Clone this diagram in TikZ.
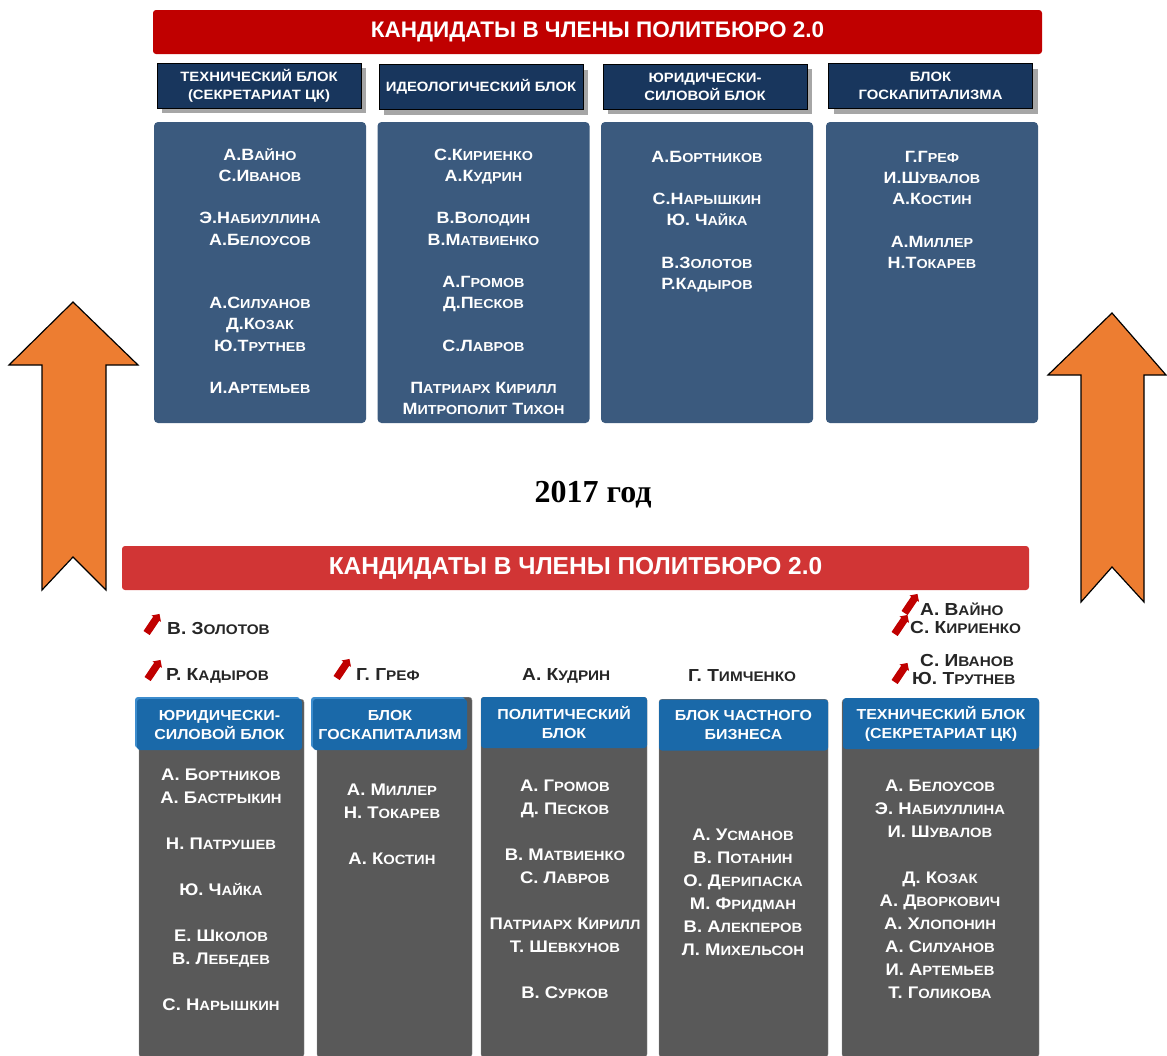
\documentclass[tikz,border=0pt]{standalone}
\usepackage{fontspec}
\setmainfont{Liberation Sans}[FakeStretch=1.1]
\newfontfamily\bannerfont{Liberation Sans}
\newfontfamily\yearfont{Liberation Serif}
\usetikzlibrary{positioning,shadows,shapes.arrows}
\definecolor{topred}{HTML}{C00000}
\definecolor{botred}{HTML}{D13535}
\definecolor{navyhead}{HTML}{18365D}
\definecolor{steelbox}{HTML}{3B5A7E}
\definecolor{bluehead}{HTML}{1A69A9}
\definecolor{bluelight}{HTML}{3C8CCD}
\definecolor{colgray}{HTML}{595959}
\definecolor{darktext}{HTML}{262626}
\definecolor{bigarrow}{HTML}{ED7D31}
\newcommand{\nm}[2]{#1\scalebox{0.8}{#2}}

\begin{document}
\begin{tikzpicture}[x=1pt,y=-1pt]
            \tikzset{banner/.style={rounded corners=3pt, text=white, inner sep=0pt, minimum height=44pt}}
            \tikzset{oldhead/.style={fill=navyhead, draw=black, line width=0.8pt, minimum width=204pt, minimum height=45pt, text=white, align=center, font=\bfseries\fontsize{13.5}{18}\selectfont, drop shadow={opacity=1, fill=black!35, shadow xshift=5pt, shadow yshift=-5pt}}}
            \tikzset{oldbox/.style={fill=steelbox, rounded corners=4pt, minimum width=212pt, minimum height=301pt}}
            \tikzset{oldnames/.style={anchor=north, inner sep=0pt, align=center, text=white, font=\bfseries\fontsize{16.3}{21.2}\selectfont}}
            \tikzset{newcol/.style={anchor=north, fill=colgray, draw=black!45, rounded corners=3pt, inner sep=0pt}}
            \tikzset{newhead/.style={fill=bluehead, rounded corners=3pt, inner sep=0pt, minimum height=51pt, text=white, align=center, font=\bfseries\fontsize{14.5}{19}\selectfont}}
            \tikzset{newnames/.style={anchor=north, inner sep=0pt, align=center, text=white, font=\bfseries\fontsize{16.8}{23}\selectfont}}
            \tikzset{outname/.style={anchor=west, inner sep=0pt, text height=12.5pt, text depth=0pt, text=darktext, font=\bfseries\fontsize{17.4}{20}\selectfont}}
            \tikzset{risearrow/.style={single arrow, fill=topred, rotate=56, inner sep=3.5pt, minimum height=23pt, single arrow head extend=2pt}}
            % \tikzset{newhead/.append style={draw=bluelight}}
            \useasboundingbox (0,0) rectangle (1167,1055);

            % big arrows
            \draw[fill=bigarrow, line width=1.2pt] (73,302) -- (138,365) -- (106,365) -- (106,590) -- (73,557)
                -- (42,590) -- (42,365) -- (9,365) -- cycle;
            \draw[fill=bigarrow, line width=1.2pt] (1112,313) -- (1166,375) -- (1144,375) -- (1144,602) -- (1112,567)
                -- (1081,602) -- (1081,375) -- (1048,375) -- cycle;

            % old composition
            \node[banner, fill=topred, minimum width=889pt, font=\bannerfont\bfseries\fontsize{22.5}{26}\selectfont]
                (oldtitle) at (597.5,32) {КАНДИДАТЫ В ЧЛЕНЫ ПОЛИТБЮРО 2.0};
            \node[oldhead] (oldtech) at (259,85.5) {ТЕХНИЧЕСКИЙ БЛОК\\(СЕКРЕТАРИАТ ЦК)};
            \node[oldhead] (oldideo) at (481,87) {ИДЕОЛОГИЧЕСКИЙ БЛОК};
            \node[oldhead] (oldsil) at (705,86.5) {ЮРИДИЧЕСКИ-\\СИЛОВОЙ БЛОК};
            \node[oldhead] (oldcap) at (930.5,86) {БЛОК\\ГОСКАПИТАЛИЗМА};
            \node[oldbox] (techbox) at (260,272.5) {};
            \node[oldbox] (ideobox) at (483.5,272.5) {};
            \node[oldbox] (silbox) at (707,272.5) {};
            \node[oldbox] (capbox) at (932,272.5) {};
            \node[oldnames, below=23.5pt of techbox.north] (technames) {\strut\nm{А.В}{АЙНО}\\\nm{С.И}{ВАНОВ}\\[21.2pt]
                \nm{Э.Н}{АБИУЛЛИНА}\\\nm{А.Б}{ЕЛОУСОВ}\\[42.4pt]
                \nm{А.С}{ИЛУАНОВ}\\\nm{Д.К}{ОЗАК}\\\nm{Ю.Т}{РУТНЕВ}\\[21.2pt]
                \nm{И.А}{РТЕМЬЕВ}};
            \node[oldnames, below=23.5pt of ideobox.north] (ideonames) {\strut\nm{С.К}{ИРИЕНКО}\\\nm{А.К}{УДРИН}\\[21.2pt]
                \nm{В.В}{ОЛОДИН}\\\nm{В.М}{АТВИЕНКО}\\[21.2pt]
                \nm{А.Г}{РОМОВ}\\\nm{Д.П}{ЕСКОВ}\\[21.2pt]
                \nm{С.Л}{АВРОВ}\\[21.2pt]
                \nm{П}{АТРИАРХ} \nm{К}{ИРИЛЛ}\\\nm{М}{ИТРОПОЛИТ} \nm{Т}{ИХОН}};
            \node[oldnames, below=25.5pt of silbox.north] (silnames) {\strut\nm{А.Б}{ОРТНИКОВ}\\[21.2pt]
                \nm{С.Н}{АРЫШКИН}\\\nm{Ю. Ч}{АЙКА}\\[21.2pt]
                \nm{В.З}{ОЛОТОВ}\\\nm{Р.К}{АДЫРОВ}};
            \node[oldnames, below=25.5pt of capbox.north] (capnames) {\strut\nm{Г.Г}{РЕФ}\\\nm{И.Ш}{УВАЛОВ}\\\nm{А.К}{ОСТИН}\\[21.2pt]
                \nm{А.М}{ИЛЛЕР}\\\nm{Н.Т}{ОКАРЕВ}};

            \node[font=\yearfont\bfseries\fontsize{32}{36}\selectfont] (year) at (593,495) {2017 год};

            % new composition
            \node[banner, fill=botred, minimum width=907pt, font=\bannerfont\bfseries\fontsize{24.5}{28}\selectfont]
                (newtitle) at (575.5,568) {КАНДИДАТЫ В ЧЛЕНЫ ПОЛИТБЮРО 2.0};
            \node[newcol, minimum width=165pt, minimum height=358pt] (silcol) at (221.5,699) {};
            \node[newcol, minimum width=155pt, minimum height=360pt] (capcol) at (394.5,697) {};
            \node[newcol, minimum width=166pt, minimum height=360pt] (polcol) at (564,697) {};
            \node[newcol, minimum width=169pt, minimum height=358pt] (bizcol) at (743.5,699) {};
            \node[newcol, minimum width=197pt, minimum height=358pt] (techcol) at (940.5,699) {};
            \node[newhead, minimum width=165pt, preaction={fill=bluelight, transform canvas={xshift=-2pt, yshift=2pt}}]
                (silhead) at (219.5,724.5) {ЮРИДИЧЕСКИ-\\СИЛОВОЙ БЛОК};
            \node[newhead, minimum width=154pt, preaction={fill=bluelight, transform canvas={xshift=-2pt, yshift=2pt}}]
                (caphead) at (390,724.5) {БЛОК\\ГОСКАПИТАЛИЗМ};
            \node[newhead, minimum width=166pt] (polhead) at (564,722.5) {ПОЛИТИЧЕСКИЙ\\БЛОК};
            \node[newhead, minimum width=169pt] (bizhead) at (743.5,725) {БЛОК ЧАСТНОГО\\БИЗНЕСА};
            \node[newhead, minimum width=196pt] (techhead) at (941,723.5) {ТЕХНИЧЕСКИЙ БЛОК\\(СЕКРЕТАРИАТ ЦК)};
            \node[newnames] (silnew) at (221,764.6) {\strut\nm{А. Б}{ОРТНИКОВ}\\\nm{А. Б}{АСТРЫКИН}\\[23pt]
                \nm{Н. П}{АТРУШЕВ}\\[23pt]
                \nm{Ю. Ч}{АЙКА}\\[23pt]
                \nm{Е. Ш}{КОЛОВ}\\\nm{В. Л}{ЕБЕДЕВ}\\[23pt]
                \nm{С. Н}{АРЫШКИН}};
            \node[newnames] (capnew) at (392,779.6) {\strut\nm{А. М}{ИЛЛЕР}\\\nm{Н. Т}{ОКАРЕВ}\\[23pt]
                \nm{А. К}{ОСТИН}};
            \node[newnames] (polnew) at (565,775.6) {\strut\nm{А. Г}{РОМОВ}\\\nm{Д. П}{ЕСКОВ}\\[23pt]
                \nm{В. М}{АТВИЕНКО}\\\nm{С. Л}{АВРОВ}\\[23pt]
                \nm{П}{АТРИАРХ} \nm{К}{ИРИЛЛ}\\\nm{Т. Ш}{ЕВКУНОВ}\\[23pt]
                \nm{В. С}{УРКОВ}};
            \node[newnames] (biznew) at (743,824.6) {\strut\nm{А. У}{СМАНОВ}\\\nm{В. П}{ОТАНИН}\\\nm{О. Д}{ЕРИПАСКА}\\
                \nm{М. Ф}{РИДМАН}\\\nm{В. А}{ЛЕКПЕРОВ}\\\nm{Л. М}{ИХЕЛЬСОН}};
            \node[newnames] (technew) at (940,775.6) {\strut\nm{А. Б}{ЕЛОУСОВ}\\\nm{Э. Н}{АБИУЛЛИНА}\\\nm{И. Ш}{УВАЛОВ}\\[23pt]
                \nm{Д. К}{ОЗАК}\\\nm{А. Д}{ВОРКОВИЧ}\\\nm{А. Х}{ЛОПОНИН}\\
                \nm{А. С}{ИЛУАНОВ}\\\nm{И. А}{РТЕМЬЕВ}\\\nm{Т. Г}{ОЛИКОВА}};

            % names above the columns
            \node[risearrow] (zolarr) at (152,625) {};
            \node[outname] (zolotov) at (167,628) {\nm{В. З}{ОЛОТОВ}};
            \node[risearrow] (kadarr) at (153,671) {};
            \node[outname] (kadyrov) at (166,674) {\nm{Р. К}{АДЫРОВ}};
            \node[risearrow] (grefarr) at (342,670) {};
            \node[outname] (gref) at (356,674) {\nm{Г. Г}{РЕФ}};
            \node[outname] (kudrin) at (522,674) {\nm{А. К}{УДРИН}};
            \node[outname] (timch) at (688,675) {\nm{Г. Т}{ИМЧЕНКО}};
            \node[risearrow] (vaiarr) at (910,605) {};
            \node[outname] (vaino) at (920,609) {\nm{А. В}{АЙНО}};
            \node[risearrow] (kirarr) at (900,626) {};
            \node[outname] (kirienko) at (910,627) {\nm{С. К}{ИРИЕНКО}};
            \node[outname] (ivanov) at (920,660) {\nm{С. И}{ВАНОВ}};
            \node[risearrow] (trutarr) at (900,674) {};
            \node[outname] (trutnev) at (912,678) {\nm{Ю. Т}{РУТНЕВ}};
\end{tikzpicture}
\end{document}
